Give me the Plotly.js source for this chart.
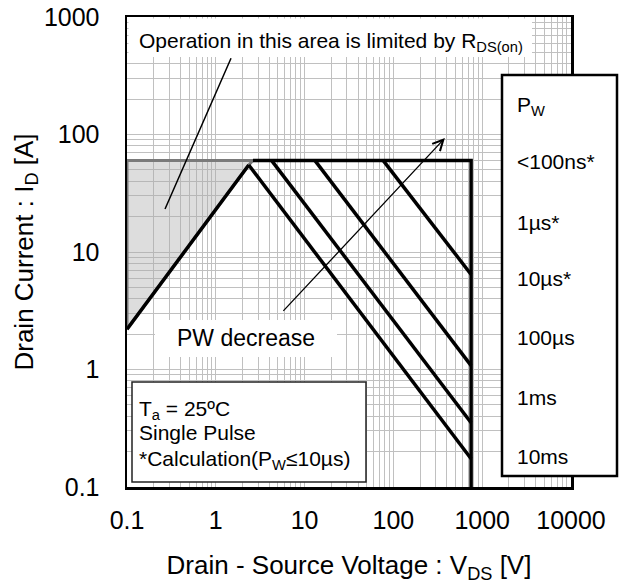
<!DOCTYPE html>
<html>
<head>
<meta charset="utf-8">
<script src="https://cdn.plot.ly/plotly-3.0.1.min.js"></script>
<style>html,body{margin:0;padding:0;background:#fff;}#chart{width:623px;height:584px;}</style>
</head>
<body>
<div id="chart"></div>
<script>
// ---- data ----
const vdsRds = [0.1, 2.35];          // R_DS(on) limit
const idRds = [2.2, 55];
const vdsShade = [0.1, 0.1, 2.62, 2.35, 0.1];   // shaded R_DS(on) region
const idShade = [2.2, 60, 60, 55, 2.2];
const vdsPw100ns = [2.62, 750, 750];  // <100ns rectangle (I_D max, V_DSS)
const idPw100ns = [60, 60, 0.1];
const vdsPw100us = [76.9, 750];
const idPw100us = [60, 6.44];
const vdsPw1ms = [13.1, 750];
const idPw1ms = [60, 1.08];
const vdsPw10ms_a = [4.26, 750];
const idPw10ms_a = [60, 0.352];
const vdsPw10ms = [2.35, 750];
const idPw10ms = [55, 0.174];

const xTickVals = [0.1, 1, 10, 100, 1000, 10000];
const xTickText = ['0.1', '1', '10', '100', '1000', '10000'];
const yTickVals = [0.1, 1, 10, 100, 1000];
const yTickText = ['0.1', '1', '10', '100', '1000'];
const pwLabels = ['P<sub>W</sub>', '<100ns*', '1µs*', '10µs*', '100µs', '1ms', '10ms'];
const infoLines = ['T<sub>a</sub> = 25ºC', 'Single Pulse', '*Calculation(P<sub>W</sub>≤10µs)'];

// minor grid positions (2..9 x 10^k)
function minorVals(k0, k1) {
  const out = [];
  for (let k = k0; k < k1; k++) for (let m = 2; m <= 9; m++) out.push(m * Math.pow(10, k));
  return out;
}

const FONT = 'Arial, "Liberation Sans", sans-serif';
const lineStyle = {color: '#000', width: 3.5};

const traces = [
  {x: vdsShade, y: idShade, mode: 'lines', fill: 'toself', fillcolor: 'rgba(170,170,170,0.40)',
   line: {color: '#7a7a7a', width: 3}, hoverinfo: 'skip'},
  {x: vdsRds, y: idRds, mode: 'lines', line: lineStyle},
  {x: vdsPw100ns, y: idPw100ns, mode: 'lines', line: lineStyle},
  {x: vdsPw100us, y: idPw100us, mode: 'lines', line: lineStyle},
  {x: vdsPw1ms, y: idPw1ms, mode: 'lines', line: lineStyle},
  {x: vdsPw10ms_a, y: idPw10ms_a, mode: 'lines', line: lineStyle},
  {x: vdsPw10ms, y: idPw10ms, mode: 'lines', line: lineStyle}
];

const L = Math.log10;
const PX = px => (px - 127) / 444;
const PY = py => (487 - py) / 470;

const annotations = [
  {xref: 'paper', yref: 'paper', x: PX(331), y: PY(42), xanchor: 'center', yanchor: 'middle',
   text: 'Operation in this area is limited by R<sub>DS(on)</sub>', showarrow: false,
   font: {family: FONT, size: 21, color: '#000'}},
  {xref: 'x', yref: 'y', x: L(0.268), y: L(23.2), axref: 'x', ayref: 'y', ax: L(1.51), ay: L(459),
   text: '', showarrow: true, arrowhead: 0, arrowwidth: 1.5, arrowcolor: '#000'},
  {xref: 'x', yref: 'y', x: L(380), y: L(93.3), axref: 'x', ayref: 'y', ax: L(5.56), ay: L(3.06),
   text: '', showarrow: true, arrowhead: 5, arrowsize: 1.6, arrowwidth: 1.3, arrowcolor: '#000'},
  {xref: 'paper', yref: 'paper', x: PX(245.5), y: PY(338), xanchor: 'center', yanchor: 'middle',
   text: 'PW decrease', showarrow: false, font: {family: FONT, size: 23, color: '#000'}}
];

const legendY = [104, 162, 222, 278, 337, 397, 456];
pwLabels.forEach((t, i) => {
  annotations.push({xref: 'paper', yref: 'paper', x: PX(515), y: PY(legendY[i] + (i === 0 ? 2 : 0)),
    xanchor: 'left', yanchor: 'middle', text: t, showarrow: false,
    font: {family: FONT, size: 21, color: '#000'}});
});
const infoY = [408, 432, 458];
infoLines.forEach((t, i) => {
  annotations.push({xref: 'paper', yref: 'paper', x: PX(137), y: PY(infoY[i] + (i !== 1 ? 2 : 0)),
    xanchor: 'left', yanchor: 'middle', text: t, showarrow: false,
    font: {family: FONT, size: 21, color: '#000'}});
});

const shapes = [
  // white background behind the R_DS(on) note
  {type: 'rect', xref: 'paper', yref: 'paper', x0: PX(128.5), x1: PX(532), y0: PY(57), y1: PY(18.5),
   fillcolor: '#fff', line: {width: 0}, layer: 'above'},
  // white background behind "PW decrease"
  {type: 'rect', xref: 'paper', yref: 'paper', x0: PX(155), x1: PX(337), y0: PY(357), y1: PY(320),
   fillcolor: '#fff', line: {width: 0}, layer: 'above'},
  // conditions box
  {type: 'rect', xref: 'paper', yref: 'paper', x0: PX(132), x1: PX(366), y0: PY(482), y1: PY(382),
   fillcolor: '#fff', line: {color: '#222', width: 1.5}, layer: 'above'},
  // PW legend box
  {type: 'rect', xref: 'paper', yref: 'paper', x0: PX(502), x1: PX(617), y0: PY(476), y1: PY(75),
   fillcolor: '#fff', line: {color: '#000', width: 2.5}, layer: 'above'}
];

const gridColor = '#c0c0c0';
const layout = {
  width: 623, height: 584,
  margin: {l: 127, r: 52, t: 17, b: 97},
  paper_bgcolor: '#fff', plot_bgcolor: '#fff',
  showlegend: false,
  font: {family: FONT, color: '#000'},
  xaxis: {
    type: 'log', range: [-1, 4], tickmode: 'array', tickvals: xTickVals, ticktext: xTickText,
    ticks: 'outside', ticklen: 9, tickcolor: 'rgba(0,0,0,0)',
    tickfont: {family: FONT, size: 25, color: '#000'},
    showgrid: true, gridcolor: gridColor, gridwidth: 1,
    minor: {tickmode: 'array', tickvals: minorVals(-1, 4), showgrid: true, gridcolor: gridColor, gridwidth: 1, ticks: ''},
    showline: true, mirror: true, linecolor: '#000', linewidth: 2.5, zeroline: false,
    title: {text: 'Drain - Source Voltage : V<sub>DS</sub> [V]', font: {family: FONT, size: 26, color: '#000'}, standoff: 24},
    automargin: false
  },
  yaxis: {
    type: 'log', range: [-1, 3], tickmode: 'array', tickvals: yTickVals, ticktext: yTickText,
    ticks: 'outside', ticklen: 20, tickcolor: 'rgba(0,0,0,0)',
    tickfont: {family: FONT, size: 25, color: '#000'},
    showgrid: true, gridcolor: gridColor, gridwidth: 1,
    minor: {tickmode: 'array', tickvals: minorVals(-1, 3), showgrid: true, gridcolor: gridColor, gridwidth: 1, ticks: ''},
    showline: true, mirror: true, linecolor: '#000', linewidth: 2.5, zeroline: false,
    title: {text: 'Drain Current : I<sub>D</sub> [A]', font: {family: FONT, size: 26, color: '#000'}, standoff: 3},
    automargin: false
  },
  annotations: annotations,
  shapes: shapes
};

Plotly.newPlot('chart', traces, layout, {displayModeBar: false, staticPlot: true});
</script>
</body>
</html>
